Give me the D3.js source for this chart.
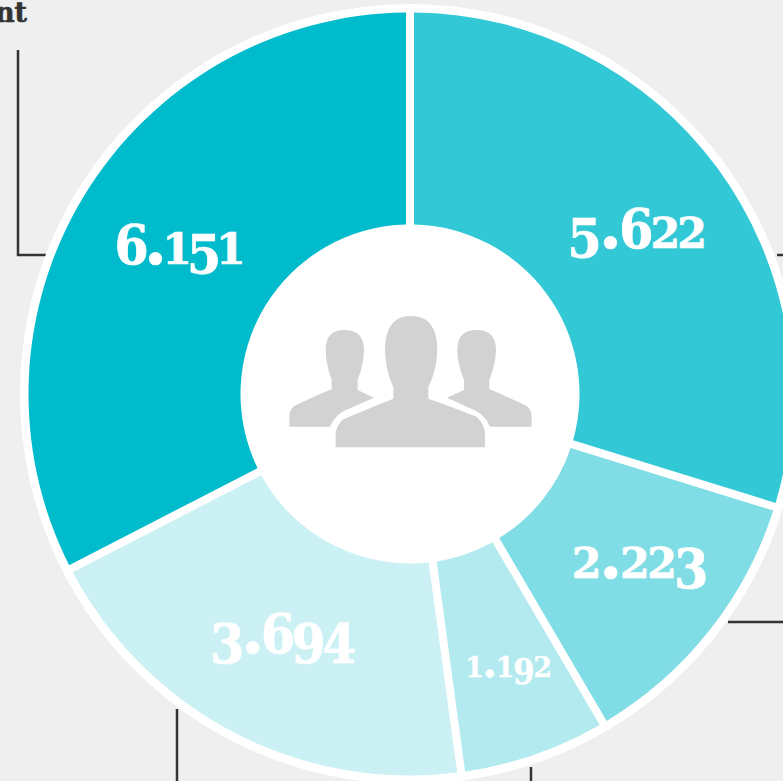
<!DOCTYPE html>
<html><head><meta charset="utf-8">
<script src="https://cdn.jsdelivr.net/npm/d3@7/dist/d3.min.js"></script>
<style>
html,body{margin:0;padding:0;background:#efefef;overflow:hidden}
svg{display:block}
</style></head><body>
<script>
const labels = ["5.622","2.223","1.192","3.694","6.151"];
const values = [5622,2223,1192,3694,6151];
const colours = ["#33c8d6","#80dde5","#b3eaef","#ccf1f5","#00bbcb"];
const fontSizes = [52,52,33,52,52];
const letterSpacings = [-3,-2.5,-1.5,-3.5,-5];
const labelNudgeX = [2,11,7,0,5];
const labelNudgeY = [19,11.5,20.5,12.5,15];
const leaders = [
  [[18,50],[18,255],[46,255]],
  [[777,255],[783,255]],
  [[728,622],[783,622]],
  [[177,709],[177,781]],
  [[531,767],[531,781]]
];
const W=783,H=781,cx=410,cy=394;
const svg=d3.select("body").append("svg").attr("width",W).attr("height",H);
svg.append("rect").attr("width",W).attr("height",H).attr("fill","#efefef");

svg.append("text").attr("x",27).attr("y",22).attr("text-anchor","end")
  .attr("font-family","'DejaVu Serif'").attr("font-weight",700).attr("font-size",27)
  .attr("fill","#333").attr("stroke","#333").attr("stroke-width",.6).text("nt");

svg.selectAll("path.leader").data(leaders).join("path").attr("class","leader")
  .attr("d",d3.line()).attr("fill","none").attr("stroke","#333").attr("stroke-width",2.5);

const g=svg.append("g").attr("transform",`translate(${cx},${cy})`);
g.append("circle").attr("r",390).attr("fill","#fff");
const pie=d3.pie().sort(null)(values);
const arc=d3.arc().innerRadius(169.5).outerRadius(381.5).padAngle(8/381.5).padRadius(381.5);
const labelArc=d3.arc().innerRadius(278).outerRadius(278);
g.selectAll("path.slice").data(pie).join("path").attr("class","slice")
  .attr("d",arc).attr("fill",(d,i)=>colours[i]);

// old-style figure look: x-height digits, descending digits and ascending digits
const style=c=>{
  if(c===".") return {s:1.3,dy:0,f:"'DejaVu Serif'"};
  if("012".includes(c)) return {s:.82,dy:0,f:"'DejaVu Serif'"};
  if("34579".includes(c)) return {s:1.05,dy:.19,f:"'DejaVu Serif Condensed'"};
  return {s:1.05,dy:0,f:"'DejaVu Serif Condensed'"};
};
const tx=g.selectAll("text.val").data(pie).join("text").attr("class","val")
  .attr("transform",(d,i)=>{const c=labelArc.centroid(d);return `translate(${c[0]+labelNudgeX[i]},${c[1]+labelNudgeY[i]})`;})
  .attr("text-anchor","middle").attr("font-weight",700)
  .attr("letter-spacing",(d,i)=>letterSpacings[i])
  .attr("fill","#fff").attr("stroke","#fff").attr("stroke-width",(d,i)=>fontSizes[i]>40?.7:.3);
tx.each(function(d,i){
  const fs=fontSizes[i]; let prev=0;
  const t=d3.select(this);
  for(const c of labels[i]){
    const st=style(c); const off=fs*st.dy;
    t.append("tspan").attr("font-family",st.f).attr("font-size",fs*st.s).attr("dy",off-prev).text(c);
    prev=off;
  }
});

const icon=svg.append("g").attr("transform","translate(270,300) scale(0.3333)").attr("fill","#d2d2d2");
icon.append("path").attr("d","M197 442L197 400Q200 375 220 358L330 312L370 296L370 262Q345 205 345 150Q345 48 423 48Q502 48 502 150Q502 205 475 262L475 296L520 312L620 350Q645 375 645 400L645 442Z");
icon.append("path").attr("d","M58 380L58 345Q60 320 85 312L150 282L185 268L185 240Q167 190 167 150Q167 90 223 90Q282 90 282 150Q282 190 263 240L263 270L312 293L240 325Q195 340 180 380Z");
icon.append("path").attr("d","M785 380L785 345Q783 320 758 312L693 282L658 268L658 240Q678 190 678 150Q678 90 620 90Q562 90 562 150Q562 190 582 240L582 270L531 293L600 325Q645 340 660 380Z");
</script>
</body></html>
